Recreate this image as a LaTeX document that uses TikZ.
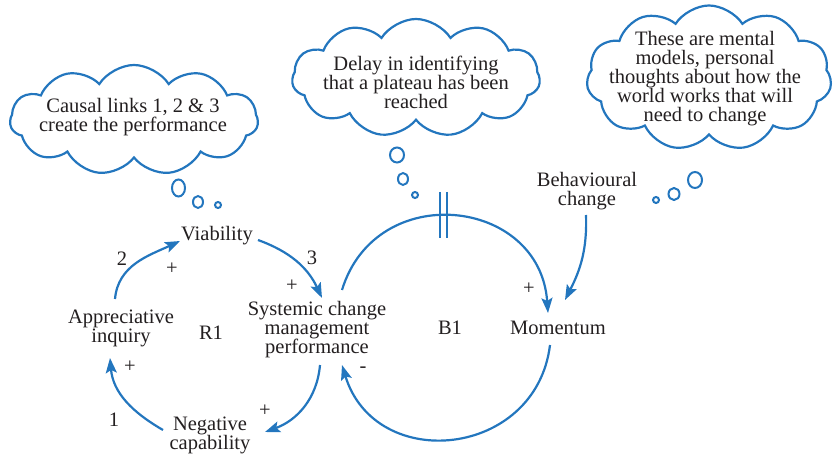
\documentclass[tikz,border=0pt]{standalone}
\usepackage{fontspec}
\setmainfont{Liberation Serif}
\usetikzlibrary{shapes.symbols,arrows.meta}
\definecolor{lblue}{RGB}{35,118,190}
\definecolor{ink}{RGB}{35,31,32}
\begin{document}
\begin{tikzpicture}[x=1pt,y=1pt,
  every node/.style={font=\fontsize{20.5}{19}\selectfont, align=center, inner sep=0pt, text=ink},
  link/.style={draw=lblue, line width=2.2pt, -{Stealth[length=15pt,width=11pt,inset=3pt]}},
  thought/.style={cloud, draw=lblue, line width=2.2pt, cloud puffs=11, cloud puff arc=115, inner sep=0pt},
  bubble/.style={draw=lblue, line width=2pt},
  delaybar/.style={draw=lblue, line width=2pt}]
\useasboundingbox (0,0) rectangle (835,-454);

% thought clouds
\node[thought, minimum width=248pt, minimum height=110pt] (c1) at (134,-120) {};
\node (t1) at (133,-117) {Causal links 1, 2 \& 3\\create the performance};
\node[thought, minimum width=248pt, minimum height=118pt] (c2) at (416,-78) {};
\node (t2) at (416,-82) {Delay in identifying\\that a plateau has been\\reached};
\node[thought, minimum width=245pt, minimum height=145pt] (c3) at (709,-78) {};
\node (t3) at (705,-79) {These are mental\\models, personal\\thoughts about how the\\world works that will\\need to change};

% bubbles
\draw[bubble] (178.5,-188) ellipse[x radius=6.5, y radius=8.5];
\draw[bubble] (198,-202) ellipse[x radius=5, y radius=6];
\draw[bubble] (218,-205) circle[radius=3];
\draw[bubble] (397,-155) ellipse[x radius=7, y radius=7.5];
\draw[bubble] (403,-179) ellipse[x radius=5, y radius=6];
\draw[bubble] (415,-195) circle[radius=3];
\draw[bubble] (695,-180) ellipse[x radius=7, y radius=8];
\draw[bubble] (674,-194) ellipse[x radius=5.5, y radius=6];
\draw[bubble] (656,-200) circle[radius=3];

% variables
\node (via) at (217,-236) {Viability};
\node (appr) at (121,-328) {Appreciative\\inquiry};
\node (sys) at (317,-330) {Systemic change\\management\\performance};
\node (neg) at (210,-435) {Negative\\capability};
\node (r1) at (211,-333) {R1};
\node (b1) at (450,-328) {B1};
\node (mom) at (558,-328) {Momentum};
\node (beh) at (587,-191) {Behavioural\\change};

% link labels
\node (n2) at (122,-259) {2};
\node (p2) at (172,-269) {+};
\node (n3) at (312,-258) {3};
\node (p3) at (292,-286) {+};
\node (p1) at (130,-367) {+};
\node (n1) at (114,-420) {1};
\node (p4) at (265,-411) {+};
\node (m6) at (363,-370) {-};
\node (p5) at (529,-289) {+};

% R1 loop
\draw[link] ([shift={(-6,29)}]appr.center) to[out=85,in=205] ([shift={(-37,-5)}]via.center);
\draw[link] ([shift={(41,-4)}]via.center) to[out=-20,in=115] ([shift={(5,32)}]sys.center);
\draw[link] ([shift={(3,-35)}]sys.center) to[out=-95,in=20] ([shift={(55,3)}]neg.center);
\draw[link] ([shift={(-47,5)}]neg.center) to[out=150,in=-85] ([shift={(-11,-30)}]appr.center);

% B1 loop
\draw[link] ([shift={(25,40)}]sys.center) to[out=73,in=94,distance=116pt] ([shift={(-10,15)}]mom.center);
\draw[link] ([shift={(-8,-17)}]mom.center) to[out=-97,in=-73,distance=114pt] ([shift={(25,-35)}]sys.center);
\draw[link] ([shift={(-1,-24)}]beh.center) to[out=-88,in=63] ([shift={(7,28)}]mom.center);

% delay mark
\draw[delaybar] (440,-192) -- (440,-238);
\draw[delaybar] (447,-192) -- (447,-238);
\end{tikzpicture}
\end{document}
